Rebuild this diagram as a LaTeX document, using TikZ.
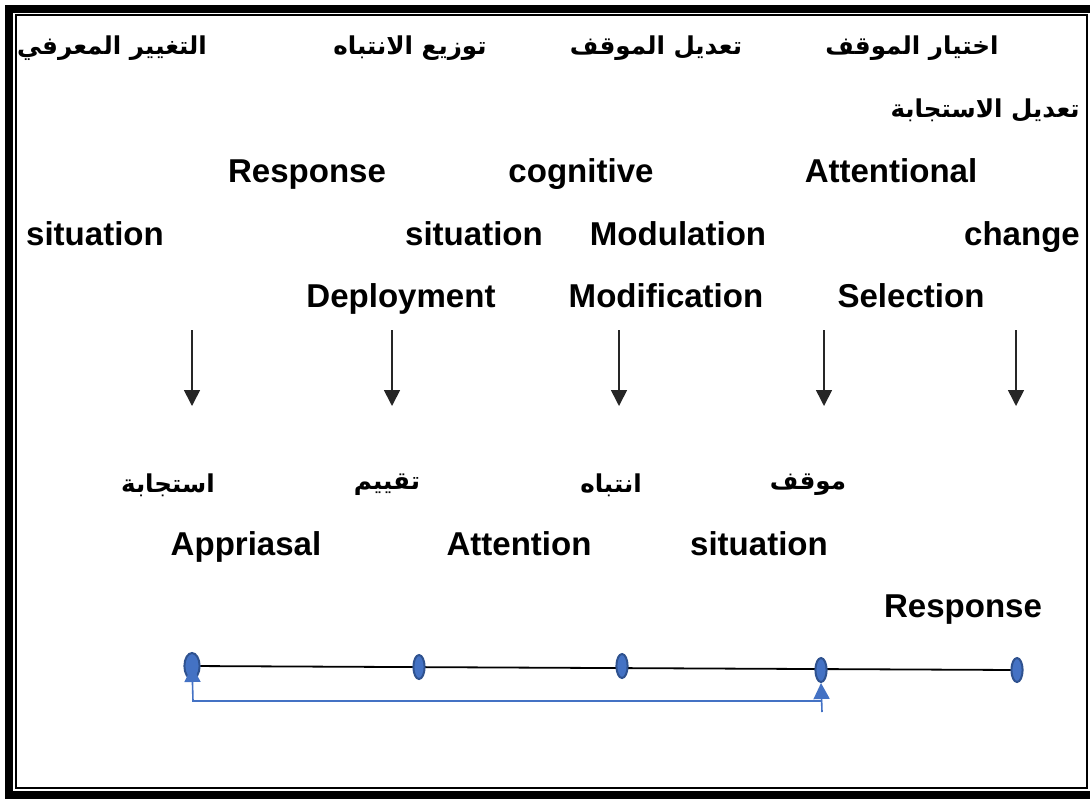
\documentclass[tikz,border=0pt]{standalone}
\usepackage{fontspec}
\setmainfont{Liberation Sans}
\newfontfamily\arabicfont[Script=Arabic]{DejaVu Sans}
\TeXXeTstate=1
\usetikzlibrary{positioning,shapes.geometric,arrows.meta}
\pgfdeclarelayer{bg}
\pgfsetlayers{bg,main}
\definecolor{dotblue}{HTML}{4472C4}
\definecolor{dotedge}{HTML}{2F528F}
\tikzset{
  lbl/.style={font=\fontsize{23.5}{28}\selectfont\bfseries, inner sep=0pt, text height=17pt, text depth=5pt},
  arlbl/.style={font=\fontsize{17.5}{22}\selectfont\arabicfont\bfseries, inner sep=0pt},
  down/.style={draw=black!85, line width=0.4mm, -{Triangle[length=4mm, width=4mm]}},
  dot/.style={ellipse, draw=dotedge, line width=0.5mm, fill=dotblue, minimum width=2.8mm, minimum height=6mm, inner sep=0pt},
  back/.style={draw=dotblue, line width=0.4mm},
  backtip/.style={back, -{Triangle[length=4mm, width=4mm]}}
}

\begin{document}
\begin{tikzpicture}[x=0.25mm, y=-0.25mm]
\useasboundingbox (0,0) rectangle (1090,799);
% frame
\draw[line width=2mm] (9,8.5) rectangle (1100,795);
\draw[line width=0.5mm] (16,15) rectangle (1087,788);

% arabic headings
\node[arlbl] (ar1) at (112,48) {\beginR التغيير المعرفي\endR};
\node[arlbl] (ar2) at (410,48) {\beginR توزيع الانتباه\endR};
\node[arlbl] (ar3) at (656,48) {\beginR تعديل الموقف\endR};
\node[arlbl] (ar4) at (912,48) {\beginR اختيار الموقف\endR};
\node[arlbl, anchor=east] (ar5) at (1080,110) {\beginR تعديل الاستجابة\endR};

% english headings
\node[lbl] (resp) at (307,174) {Response};
\node[lbl] (cogn) at (581,174) {cognitive};
\node[lbl] (attn) at (891,174) {Attentional};
\node[lbl] (sit1) at (95,237) {situation};
\node[lbl] (sit2) at (474,237) {situation};
\node[lbl] (modu) at (678,237) {Modulation};
\node[lbl] (chng) at (1022,237) {change};
\node[lbl] (depl) at (401,299) {Deployment};
\node[lbl] (modi) at (666,299) {Modification};
\node[lbl] (sele) at (911,299) {Selection};

% arrows down
\coordinate (a1s) at (192,330); \coordinate (a1e) at (192,406);
\coordinate (a2s) at (392,330); \coordinate (a2e) at (392,406);
\coordinate (a3s) at (619,330); \coordinate (a3e) at (619,406);
\coordinate (a4s) at (824,330); \coordinate (a4e) at (824,406);
\coordinate (a5s) at (1016,330); \coordinate (a5e) at (1016,406);
\draw[down] (a1s) -- (a1e);
\draw[down] (a2s) -- (a2e);
\draw[down] (a3s) -- (a3e);
\draw[down] (a4s) -- (a4e);
\draw[down] (a5s) -- (a5e);

% stages
\node[arlbl] (st1) at (168,485) {\beginR استجابة\endR};
\node[arlbl] (st2) at (387,485) {\beginR تقييم\endR};
\node[arlbl] (st3) at (611,485) {\beginR انتباه\endR};
\node[arlbl] (st4) at (808,485) {\beginR موقف\endR};
\node[lbl] (appr) at (246,547) {Appriasal};
\node[lbl] (atte) at (519,547) {Attention};
\node[lbl] (situ) at (759,547) {situation};
\node[lbl] (rspn) at (963,609) {Response};

% timeline
\node[dot, minimum width=3.8mm, minimum height=6.5mm] (p1) at (192,666) {};
\node[dot] (p2) at (419,667) {};
\node[dot] (p3) at (622,666) {};
\node[dot] (p4) at (821,670) {};
\node[dot] (p5) at (1017,670) {};
\begin{pgfonlayer}{bg}
\draw[line width=0.45mm] (p1.center) -- (p5.center);
\end{pgfonlayer}

% feedback
\coordinate (r0) at (822,712);
\coordinate (r1) at (822,701);
\coordinate (r2) at (193,701);
\draw[backtip] (r0) -- (p4.south);
\draw[backtip] (r1) -- (r2) -- (p1.center);
\end{tikzpicture}
\end{document}
